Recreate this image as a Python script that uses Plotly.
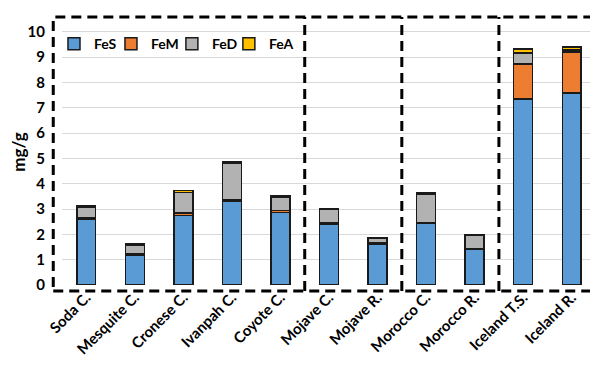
import plotly.graph_objects as go

categories = ["Soda C.", "Mesquite C.", "Cronese C.", "Ivanpah C.", "Coyote C.",
              "Mojave C.", "Mojave R.", "Morocco C.", "Morocco R.", "Iceland T.S.", "Iceland R."]
FeS = [2.60, 1.19, 2.74, 3.31, 2.87, 2.40, 1.62, 2.43, 1.43, 7.35, 7.57]
FeM = [0.05, 0.05, 0.10, 0.05, 0.08, 0.05, 0.05, 0.02, 0.02, 1.37, 1.63]
FeD = [0.42, 0.34, 0.82, 1.45, 0.53, 0.53, 0.18, 1.13, 0.52, 0.44, 0.08]
FeA = [0.05, 0.03, 0.08, 0.07, 0.06, 0.04, 0.03, 0.06, 0.02, 0.16, 0.12]
series = [("FeS", FeS, "#5B9BD5"), ("FeM", FeM, "#ED7D31"),
          ("FeD", FeD, "#B2B2B2"), ("FeA", FeA, "#FFC000")]
group_sizes = [5, 2, 2, 2]
y_ticks = list(range(0, 11))

FONT = "Lato"
legend_x = [-0.015, 0.0917, 0.2058, 0.3125]   # one legend box per series

fig = go.Figure()
legend_layout = {}
for i, (name, vals, color) in enumerate(series):
    lg = "legend" if i == 0 else f"legend{i + 1}"
    fig.add_trace(go.Bar(
        x=categories, y=vals, name=name, legend=lg,
        marker=dict(color=color, line=dict(color="#1a1a1a", width=1.5)),
    ))
    legend_layout[lg] = dict(
        orientation="h", x=legend_x[i], y=0.966, xanchor="left", yanchor="top",
        font=dict(family=FONT, size=14, weight="bold", color="black"),
        itemwidth=30, bgcolor="rgba(0,0,0,0)")

n = len(categories)
# dashed group boxes
dash_line = dict(color="black", width=3, dash="10px,6px")
box_left, box_right, box_top, box_bottom = -0.0164, 0.9968, 1.0075, -0.0226
fig.add_shape(type="rect", xref="paper", yref="paper",
              x0=box_left, x1=box_right, y0=box_bottom, y1=box_top,
              line=dash_line, fillcolor="rgba(0,0,0,0)", layer="above")
acc = 0
for g in group_sizes[:-1]:
    acc += g
    xp = acc / n
    fig.add_shape(type="line", xref="paper", yref="paper",
                  x0=xp, x1=xp, y0=box_bottom, y1=box_top,
                  line=dash_line, layer="above")

# the page body adds an 8px offset, so the figure is 8px smaller on each side
fig.update_layout(
    width=590, height=358,
    margin=dict(l=54, r=2, t=11, b=81, autoexpand=False),
    barmode="stack", bargap=0.61,
    plot_bgcolor="white", paper_bgcolor="white",
    font=dict(family=FONT, color="black", weight="bold"),
    showlegend=True,
    xaxis=dict(range=[-0.5, n - 0.5], tickangle=-45, showgrid=False,
               tickfont=dict(family=FONT, size=15, weight="bold"),
               ticks="", showline=False, zeroline=False, automargin=False),
    yaxis=dict(range=[0, 10.5], tickvals=y_ticks, showgrid=True,
               gridcolor="#D9D9D9", gridwidth=1, zeroline=False,
               ticks="outside", ticklen=13, tickcolor="rgba(0,0,0,0)",
               tickfont=dict(family=FONT, size=15, weight="bold"),
               automargin=False,
               title=dict(text="mg/g", standoff=4,
                          font=dict(family=FONT, size=17, weight="bold"))),
    **legend_layout,
)

fig.write_html("out.html")
